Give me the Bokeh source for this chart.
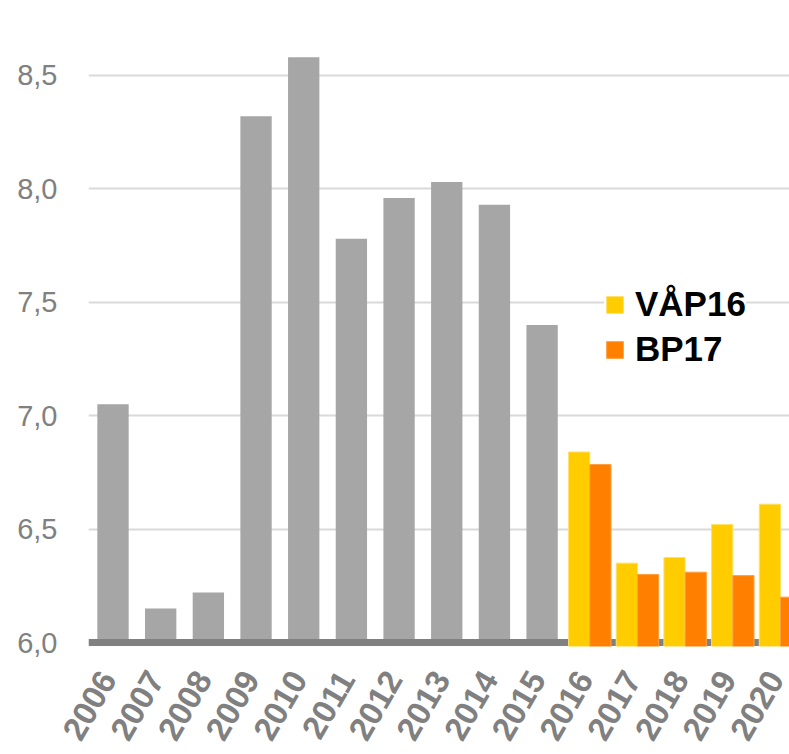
import math
from bokeh.plotting import figure
from bokeh.models import Range1d, FixedTicker, Legend, LegendItem, LinearAxis
from bokeh.embed import file_html
from bokeh.resources import INLINE

# ---- data ----
years = [str(y) for y in range(2006, 2021)]
hist_years = years[:10]
hist_values = [7.05, 6.15, 6.22, 8.32, 8.58, 7.78, 7.96, 8.03, 7.93, 7.40]
fc_years = years[10:]
vap16 = [6.84, 6.35, 6.375, 6.52, 6.61]
bp17 = [6.785, 6.30, 6.31, 6.295, 6.20]
y_ticks = [6.0, 6.5, 7.0, 7.5, 8.0, 8.5]
y_tick_labels = ["6,0", "6,5", "7,0", "7,5", "8,0", "8,5"]

# ---- styles ----
GRAY = "#a6a6a6"
AXIS_GRAY = "#808080"
YELLOW = "#ffcc00"
ORANGE = "#ff8000"
FONT = "Liberation Sans"

X_START, X_END = -0.514, 14.189
Y_START, Y_END = 5.9824, 8.7954
LABEL_SHIFT = -0.11   # labels nudged slightly left so the last one stays inside

idx = {y: i for i, y in enumerate(years)}
hist_x = [idx[y] for y in hist_years]
fc_x = [idx[y] for y in fc_years]

p = figure(width=789, height=754, output_backend="svg", toolbar_location=None,
           x_range=Range1d(X_START, X_END), y_range=Range1d(Y_START, Y_END),
           x_axis_location=None,
           min_border_left=88, min_border_right=0, min_border_top=8, min_border_bottom=108)
p.outline_line_color = None
p.xgrid.grid_line_color = None
p.ygrid.ticker = FixedTicker(ticks=y_ticks)
p.ygrid.grid_line_color = "#d9d9d9"
p.ygrid.grid_line_width = 2

# historical bars
p.vbar(x=hist_x, top=hist_values, bottom=y_ticks[0], width=0.657,
       fill_color=GRAY, line_color=None)

# baseline (axis line)
p.line(x=[X_START, X_END], y=[y_ticks[0], y_ticks[0]], line_color=AXIS_GRAY,
       line_width=7, line_cap="butt")

# forecast bars
r_vap = p.vbar(x=[x - 0.2225 for x in fc_x], top=vap16, bottom=Y_START, width=0.445,
               fill_color=YELLOW, line_color="#ffe066", line_width=1)
r_bp = p.vbar(x=[x + 0.2225 for x in fc_x], top=bp17, bottom=Y_START, width=0.445,
              fill_color=ORANGE, line_color="#ffa040", line_width=1)

# y axis
p.yaxis.ticker = FixedTicker(ticks=y_ticks)
p.yaxis.major_label_overrides = {t: l for t, l in zip(y_ticks, y_tick_labels)}
p.yaxis.axis_line_color = None
p.yaxis.major_tick_line_color = None
p.yaxis.minor_tick_line_color = None
p.yaxis.major_label_standoff = 25
p.yaxis.major_label_text_font = FONT
p.yaxis.major_label_text_font_size = "29px"
p.yaxis.major_label_text_color = AXIS_GRAY

# x axis
p.extra_x_ranges = {"lab": Range1d(X_START - LABEL_SHIFT, X_END - LABEL_SHIFT)}
xaxis = LinearAxis(x_range_name="lab",
                   ticker=FixedTicker(ticks=list(range(len(years)))),
                   major_label_overrides={i: y for i, y in enumerate(years)},
                   axis_line_color=None, major_tick_line_color=None,
                   minor_tick_line_color=None,
                   major_label_orientation=math.radians(60),
                   major_label_standoff=21,
                   major_label_text_font=FONT,
                   major_label_text_font_size="33px",
                   major_label_text_font_style="bold",
                   major_label_text_color=AXIS_GRAY)
p.add_layout(xaxis, "below")

legend = Legend(items=[LegendItem(label="VÅP16", renderers=[r_vap]),
                       LegendItem(label="BP17", renderers=[r_bp])],
                location=(516, 277), margin=0, padding=30,
                glyph_width=21, glyph_height=21, label_standoff=10, spacing=5,
                label_text_font=FONT, label_text_font_size="35px",
                label_text_font_style="bold", label_text_color="black",
                background_fill_color="white", background_fill_alpha=1,
                border_line_color=None)
p.add_layout(legend)

open("out.html", "w").write(file_html(p, INLINE))
